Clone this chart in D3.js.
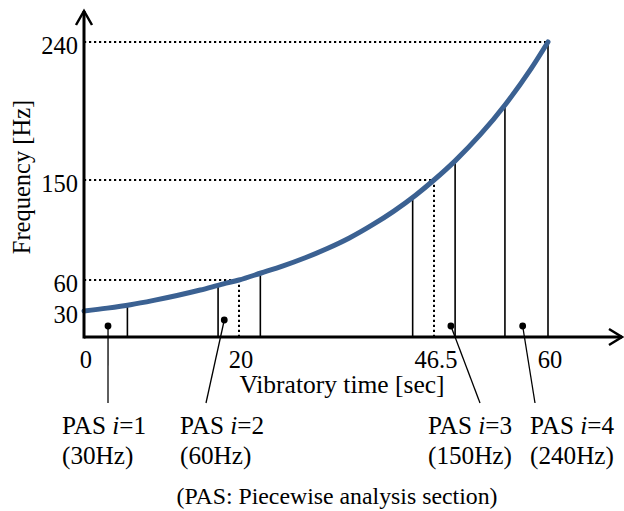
<!DOCTYPE html>
<html>
<head>
<meta charset="utf-8">
<script src="https://cdn.jsdelivr.net/npm/d3@7"></script>
<style>
  html, body { margin: 0; padding: 0; background: #fff; }
  svg { display: block; font-family: "Liberation Serif", "Times New Roman", serif; }
</style>
</head>
<body>
<svg id="chart" width="624" height="511"></svg>
<script>
// Frequency sweep curve: vibratory time [sec] vs. frequency [Hz]
const curveTime = [0, 3, 6, 9, 12, 15, 18, 20, 23, 26, 29, 32, 35, 38, 41, 44, 46.5, 49, 52, 55, 58, 60];
const curveFreq = [30, 32.8, 36.1, 40.3, 45.0, 50.3, 56.3, 60, 66.3, 72.7, 80.0, 88.3, 97.8, 109.1, 121.8, 136.3, 150, 162.5, 179.7, 199.6, 222.6, 240];

// Reference points (target frequencies) and axis tick labels
const refTime = [0, 20, 46.5, 60];
const refFreq = [30, 60, 150, 240];
const xTickValues = [0, 20, 46.5, 60];
const yTickValues = [30, 60, 150, 240];

// Piecewise analysis sections
const pasIndex = [1, 2, 3, 4];
const pasStart = [0, 17.3, 43.6, 54.9];
const pasEnd = [5.6, 22.9, 49.0, 60];
const pasFreq = [30, 60, 150, 240];
const pasMarkTime = [3.1, 18.1, 48.5, 57.0];
const pasMarkFreq = [12.7, 19.6, 12.7, 12.7];

const svg = d3.select("#chart");

// Schematic (piecewise) scales
const x = d3.scaleLinear().domain([0, 20, 46.5, 60]).range([84, 239, 434, 548]);
const y = d3.scaleLinear().domain([0, 30, 60, 150, 240]).range([337, 311, 280, 180, 42]);

const curvePts = curveTime.map((t, i) => [t, curveFreq[i]]);
const curveAt = t => {
  const i = d3.bisector(d => d[0]).left(curvePts, t);
  if (i <= 0) return curvePts[0][1];
  if (i >= curvePts.length) return curvePts[curvePts.length - 1][1];
  const a = curvePts[i - 1], b = curvePts[i];
  return a[1] + (b[1] - a[1]) * (t - a[0]) / (b[0] - a[0]);
};

const dotted = "2.2,2.8";

// Horizontal dotted guides from the y axis to each reference point (30 sits on the axis)
svg.append("g").selectAll("line")
  .data(refTime.map((t, i) => ({ t, f: refFreq[i] })).filter(d => d.t > 0))
  .join("line")
  .attr("x1", x(0)).attr("x2", d => x(d.t))
  .attr("y1", d => y(d.f)).attr("y2", d => y(d.f))
  .attr("stroke", "#000").attr("stroke-width", 2).attr("stroke-dasharray", dotted);

// Vertical dotted guides at interior reference times
svg.append("g").selectAll("line")
  .data(refTime.map((t, i) => ({ t, f: refFreq[i] })).filter(d => d.t > 0 && d.t < 60))
  .join("line")
  .attr("x1", d => x(d.t)).attr("x2", d => x(d.t))
  .attr("y1", y(0)).attr("y2", d => y(d.f))
  .attr("stroke", "#000").attr("stroke-width", 2).attr("stroke-dasharray", dotted);

// Section boundaries (solid verticals up to the curve)
const bounds = [];
pasStart.forEach((s, i) => { if (s > 0) bounds.push(s); bounds.push(pasEnd[i]); });
svg.append("g").selectAll("line")
  .data(bounds)
  .join("line")
  .attr("x1", d => x(d)).attr("x2", d => x(d))
  .attr("y1", y(0)).attr("y2", d => y(curveAt(d)))
  .attr("stroke", "#000").attr("stroke-width", 1.6);

// Sweep curve
svg.append("path")
  .datum(curvePts)
  .attr("fill", "none")
  .attr("stroke", "#3b6192")
  .attr("stroke-width", 5)
  .attr("stroke-linecap", "round")
  .attr("d", d3.line().x(d => x(d[0])).y(d => y(d[1])).curve(d3.curveMonotoneX));

// Axes with arrow heads
const axisG = svg.append("g").attr("stroke", "#000").attr("stroke-width", 3).attr("fill", "none");
const x0 = x(0), y0 = y(0);
const xEnd = 622, yEnd = 11;
axisG.append("line").attr("x1", x0).attr("x2", xEnd).attr("y1", y0).attr("y2", y0);
axisG.append("line").attr("x1", x0).attr("x2", x0).attr("y1", y0 + 1.5).attr("y2", yEnd);
axisG.append("path").attr("stroke-width", 2.5).attr("stroke-linejoin", "miter")
  .attr("d", `M${xEnd - 13},${y0 - 8}L${xEnd},${y0}L${xEnd - 13},${y0 + 8}`);
axisG.append("path").attr("stroke-width", 2.5).attr("stroke-linejoin", "miter")
  .attr("d", `M${x0 - 8},${yEnd + 14}L${x0},${yEnd}L${x0 + 8},${yEnd + 14}`);

// Tick labels
const xAxis = svg.append("g").attr("transform", `translate(0,${y0})`)
  .call(d3.axisBottom(x).tickValues(xTickValues).tickSize(0).tickPadding(14).tickFormat(d => String(d)));
const yAxis = svg.append("g").attr("transform", `translate(${x0},0)`)
  .call(d3.axisLeft(y).tickValues(yTickValues).tickSize(0).tickPadding(6).tickFormat(d => String(d)));
[xAxis, yAxis].forEach(g => {
  g.select(".domain").remove();
  g.selectAll("text").attr("font-family", "Liberation Serif").attr("font-size", 24.5).attr("fill", "#000");
});
xAxis.selectAll("text").attr("dx", "0.06em");
yAxis.selectAll("text").attr("dy", "0.47em");

// Axis titles
svg.append("text")
  .attr("x", 342).attr("y", 393)
  .attr("text-anchor", "middle").attr("font-size", 25.5)
  .text("Vibratory time [sec]");
svg.append("text")
  .attr("transform", "translate(30,177) rotate(-90)")
  .attr("text-anchor", "middle").attr("font-size", 24.5)
  .text("Frequency [Hz]");

// Section markers, leaders and labels
const labelLeft = [62, 180, 428, 530];
const leaderEnd = [108, 206, 480, 535];
const leaderY = 403;

svg.append("g").selectAll("line")
  .data(pasIndex)
  .join("line")
  .attr("x1", (d, i) => x(pasMarkTime[i]))
  .attr("y1", (d, i) => y(pasMarkFreq[i]))
  .attr("x2", (d, i) => leaderEnd[i])
  .attr("y2", leaderY)
  .attr("stroke", "#000").attr("stroke-width", 1.3);

svg.append("g").selectAll("circle")
  .data(pasIndex)
  .join("circle")
  .attr("cx", (d, i) => x(pasMarkTime[i]))
  .attr("cy", (d, i) => y(pasMarkFreq[i]))
  .attr("r", 3.4).attr("fill", "#000");

const labels = svg.append("g").selectAll("text")
  .data(pasIndex)
  .join("text")
  .attr("font-size", 25.2);
labels.append("tspan").attr("x", (d, i) => labelLeft[i]).attr("y", 434).text("PAS ");
labels.append("tspan").attr("font-style", "italic").text("i");
labels.append("tspan").text(d => "=" + d);
labels.append("tspan").attr("x", (d, i) => labelLeft[i]).attr("y", 464).text((d, i) => `(${pasFreq[i]}Hz)`);

svg.append("text")
  .attr("x", 337).attr("y", 504)
  .attr("text-anchor", "middle").attr("font-size", 23.8)
  .text("(PAS: Piecewise analysis section)");
</script>
</body>
</html>
